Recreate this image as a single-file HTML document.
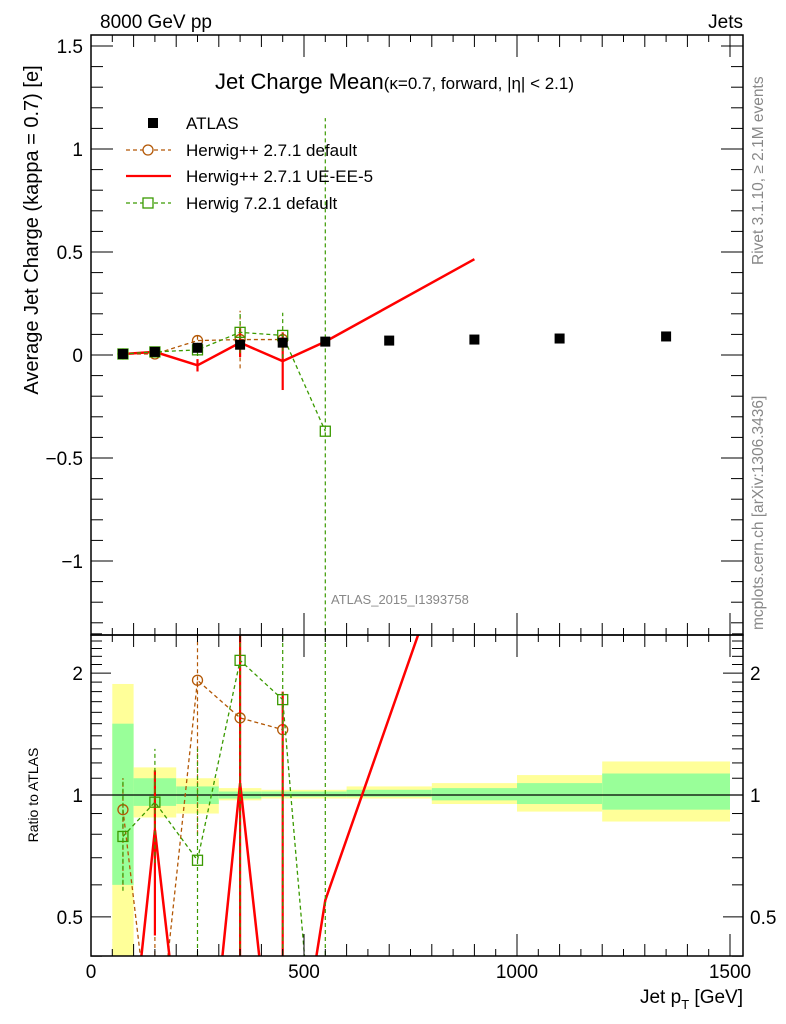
<!DOCTYPE html>
<html><head><meta charset="utf-8"><style>
html,body{margin:0;padding:0;background:#fff;overflow:hidden;width:786px;height:1024px;}
svg{display:block;font-family:"Liberation Sans",sans-serif;}
</style></head><body>
<svg id="chart" width="786" height="1024" viewBox="0 0 786 1024" xmlns="http://www.w3.org/2000/svg">
<defs>
<clipPath id="cm"><rect x="91" y="35" width="652" height="600"/></clipPath>
<clipPath id="cr"><rect x="91" y="635" width="652" height="321"/></clipPath>
</defs>
<g id="bands"></g>
<g id="marks"></g>
<g id="axes"></g>
<text x="100" y="28" font-size="19">8000 GeV pp</text>
<text x="743" y="28" font-size="19" text-anchor="end">Jets</text>
<text x="215" y="89" font-size="22">Jet Charge Mean<tspan font-size="17">(κ=0.7, forward, |η| &lt; 2.1)</tspan></text>
<text transform="translate(38,230) rotate(-90)" font-size="20" text-anchor="middle">Average Jet Charge (kappa = 0.7) [e]</text>
<text transform="translate(38,795) rotate(-90)" font-size="14" text-anchor="middle">Ratio to ATLAS</text>
<text x="743" y="1003" font-size="19" text-anchor="end">Jet p<tspan font-size="13" dy="6">T</tspan><tspan dy="-6"> [GeV]</tspan></text>
<text transform="translate(763,265) rotate(-90)" font-size="15.5" fill="#888">Rivet 3.1.10, ≥ 2.1M events</text>
<text transform="translate(763,630) rotate(-90)" font-size="15.5" fill="#888">mcplots.cern.ch [arXiv:1306.3436]</text>
<text x="331" y="604" font-size="13" fill="#888">ATLAS_2015_I1393758</text>
<g id="legend">
<rect x="148" y="118" width="10" height="10" fill="#000"/>
<text x="186" y="129" font-size="17">ATLAS</text>
<line x1="126" y1="150" x2="171" y2="150" stroke="#b35806" stroke-width="1.3" stroke-dasharray="4,3"/>
<circle cx="148" cy="150" r="5" fill="#fff" stroke="#b35806" stroke-width="1.3"/>
<text x="186" y="156" font-size="17">Herwig++ 2.7.1 default</text>
<line x1="126" y1="176" x2="171" y2="176" stroke="#f00" stroke-width="2.2"/>
<text x="186" y="182" font-size="17">Herwig++ 2.7.1 UE-EE-5</text>
<line x1="126" y1="203" x2="171" y2="203" stroke="#3a9a00" stroke-width="1.3" stroke-dasharray="4,3"/>
<rect x="143" y="198" width="10" height="10" fill="#fff" stroke="#3a9a00" stroke-width="1.3"/>
<text x="186" y="209" font-size="17">Herwig 7.2.1 default</text>
</g>
</svg>
<script>
// ---- data ----
const binEdges = [50,100,200,300,400,500,600,800,1000,1200,1500];
const xPoints = [75,150,250,350,450,550,700,900,1100,1350];
const atlasValues = [0.005,0.015,0.035,0.05,0.06,0.065,0.07,0.075,0.08,0.09];
const bandTotLo = [0.4,0.88,0.9,0.97,0.98,0.98,0.98,0.95,0.91,0.86];
const bandTotHi = [1.88,1.17,1.1,1.04,1.03,1.03,1.05,1.07,1.12,1.21];
const bandStatLo = [0.6,0.94,0.95,0.98,0.99,0.99,0.99,0.97,0.95,0.92];
const bandStatHi = [1.5,1.1,1.05,1.02,1.02,1.02,1.03,1.04,1.07,1.13];
const hppX = [75,150,250,350,450];
const hppValues = [0.005,0.005,0.07,0.075,0.075];
const hppErr = [0.003,0.01,0.03,0.14,0.03];
const hppRatio = [0.92,0.2,1.92,1.55,1.45];
const hppRatioLo = [0.6,0.1,0.8,0.1,0.1];
const hppRatioHi = [1.1,0.5,3,3,1.8];
const ueX = [75,150,250,350,450,550,900];
const ueValues = [0.005,0.015,-0.05,0.06,-0.03,0.065,0.465];
const ueErr = [0.003,0.01,0.03,0.07,0.14,0,0];
const ueRatio = [0.15,0.82,0.1,1.07,0.12,0.55,6.2];
const ueRatioLo = [0.1,0.45,0.1,0.1,0.1,0.55,6.2];
const ueRatioHi = [0.2,1.15,0.1,3,1.8,0.55,6.2];
const h7X = [75,150,250,350,450,550];
const h7Values = [0.005,0.015,0.025,0.11,0.095,-0.37];
const h7Err = [0.003,0.01,0.03,0.1,0.11,1.52];
const h7Ratio = [0.79,0.96,0.69,2.15,1.72,0.1];
const h7RatioLo = [0.58,0.68,0.1,0.1,0.1,0.1];
const h7RatioHi = [1.1,1.3,1.3,3,3,3];
const yTicks = [-1,-0.5,0,0.5,1,1.5];
const yTickLabels = ["\u22121","\u22120.5","0","0.5","1","1.5"];
const rTicks = [0.5,1,2];
const rTickLabels = ["0.5","1","2"];
const xTicks = [0,500,1000,1500];
const xTickLabels = ["0","500","1000","1500"];
// ---- scales ----
const X = v => 91 + v*0.426;
const Y = v => 355 - v*206;
const R = v => 795 - Math.log10(v)*405;
const NS = "http://www.w3.org/2000/svg";
function mk(parent, tag, attrs){const e=document.createElementNS(NS,tag);for(const k in attrs)e.setAttribute(k,attrs[k]);parent.appendChild(e);return e;}
const bands=document.getElementById('bands'), marks=document.getElementById('marks'), axes=document.getElementById('axes');
for(let i=0;i<xPoints.length;i++){
  const x0=X(binEdges[i]), x1=X(binEdges[i+1]);
  let r=mk(bands,'rect',{x:x0,y:R(bandTotHi[i]),width:x1-x0,height:R(bandTotLo[i])-R(bandTotHi[i]),fill:'#ffff99','clip-path':'url(#cr)'});
  
  
  let s=mk(bands,'rect',{x:x0,y:R(bandStatHi[i]),width:x1-x0,height:R(bandStatLo[i])-R(bandStatHi[i]),fill:'#99ff99','clip-path':'url(#cr)'});
  
  
}
mk(bands,'line',{x1:91,x2:743,y1:R(1),y2:R(1),stroke:'#000','stroke-width':1.2});
function series(xs, vals, errs, ratio, rlo, rhi, color, dash, width, marker, name){
  const gm=mk(marks,'g',{'clip-path':'url(#cm)'});
  
  
  const gr=mk(marks,'g',{'clip-path':'url(#cr)'});
  
  
  const st={fill:'none',stroke:color,'stroke-width':width};
  if(dash) st['stroke-dasharray']=dash;
  mk(gm,'polyline',Object.assign({points:xs.map((x,i)=>X(x)+','+Y(vals[i])).join(' ')},st));
  mk(gr,'polyline',Object.assign({points:xs.map((x,i)=>X(x)+','+R(ratio[i])).join(' ')},st));
  xs.forEach((x,i)=>{
    const ew={stroke:color,'stroke-width':dash?1.2:2.2};if(dash)ew['stroke-dasharray']='4,3';
    if(errs[i]>0){
      mk(gm,'line',Object.assign({x1:X(x),x2:X(x),y1:Y(vals[i]-errs[i]),y2:Y(vals[i]+errs[i])},ew));
      mk(gr,'line',Object.assign({x1:X(x),x2:X(x),y1:R(rlo[i]),y2:R(rhi[i])},ew));
    }
    if(marker==='circle'){
      mk(gm,'circle',{cx:X(x),cy:Y(vals[i]),r:5,fill:'none',stroke:color,'stroke-width':1.3});
      mk(gr,'circle',{cx:X(x),cy:R(ratio[i]),r:5,fill:'none',stroke:color,'stroke-width':1.3});
    } else if(marker==='square'){
      mk(gm,'rect',{x:X(x)-5,y:Y(vals[i])-5,width:10,height:10,fill:'none',stroke:color,'stroke-width':1.3});
      mk(gr,'rect',{x:X(x)-5,y:R(ratio[i])-5,width:10,height:10,fill:'none',stroke:color,'stroke-width':1.3});
    }
  });
}
series(hppX,hppValues,hppErr,hppRatio,hppRatioLo,hppRatioHi,'#b35806','4,3',1.3,'circle','herwigpp-default');
series(ueX,ueValues,ueErr,ueRatio,ueRatioLo,ueRatioHi,'#ff0000',null,2.5,'none','herwigpp-ueee5');
series(h7X,h7Values,h7Err,h7Ratio,h7RatioLo,h7RatioHi,'#3a9a00','4,3',1.3,'square','herwig7-default');
xPoints.forEach((x,i)=>{
  const p=mk(marks,'rect',{x:X(x)-5,y:Y(atlasValues[i])-5,width:10,height:10,fill:'#000'});
  
  
});
mk(axes,'rect',{x:91,y:35,width:652,height:600,fill:'none',stroke:'#000','stroke-width':1.5});
mk(axes,'rect',{x:91,y:635,width:652,height:321,fill:'none',stroke:'#000','stroke-width':1.5});
for(let v=0;v<=1500;v+=50){
  const L = v%500===0?22:(v%100===0?12:7);
  [[35,1],[635,-1],[635,1],[956,-1]].forEach(([y,d])=>mk(axes,'line',{x1:X(v),x2:X(v),y1:y,y2:y+d*L,stroke:'#000','stroke-width':1}));
}
xTicks.forEach((v,i)=>{
  const t=mk(axes,'text',{x:X(v),y:978,'font-size':19,'text-anchor':'middle'});t.textContent=xTickLabels[i];
  
  
});
for(let k=-13;k<=15;k++){
  const v=k/10, L=(k%5===0)?22:12;
  mk(axes,'line',{x1:91,x2:91+L,y1:Y(v),y2:Y(v),stroke:'#000','stroke-width':1});
  mk(axes,'line',{x1:743,x2:743-L,y1:Y(v),y2:Y(v),stroke:'#000','stroke-width':1});
}
yTicks.forEach((v,i)=>{
  const t=mk(axes,'text',{x:83,y:Y(v)+7,'font-size':19,'text-anchor':'end'});t.textContent=yTickLabels[i];
  
  
});
for(let k=4;k<=25;k++){
  const v=k/10, L=(k===5||k===10||k===20)?20:11;
  mk(axes,'line',{x1:91,x2:91+L,y1:R(v),y2:R(v),stroke:'#000','stroke-width':1});
  mk(axes,'line',{x1:743,x2:743-L,y1:R(v),y2:R(v),stroke:'#000','stroke-width':1});
}
rTicks.forEach((v,i)=>{
  const t=mk(axes,'text',{x:83,y:R(v)+7,'font-size':19,'text-anchor':'end'});t.textContent=rTickLabels[i];
  
  
  const t2=mk(axes,'text',{x:750,y:R(v)+7,'font-size':19});t2.textContent=rTickLabels[i];
  
  
});
</script>
</body></html>
